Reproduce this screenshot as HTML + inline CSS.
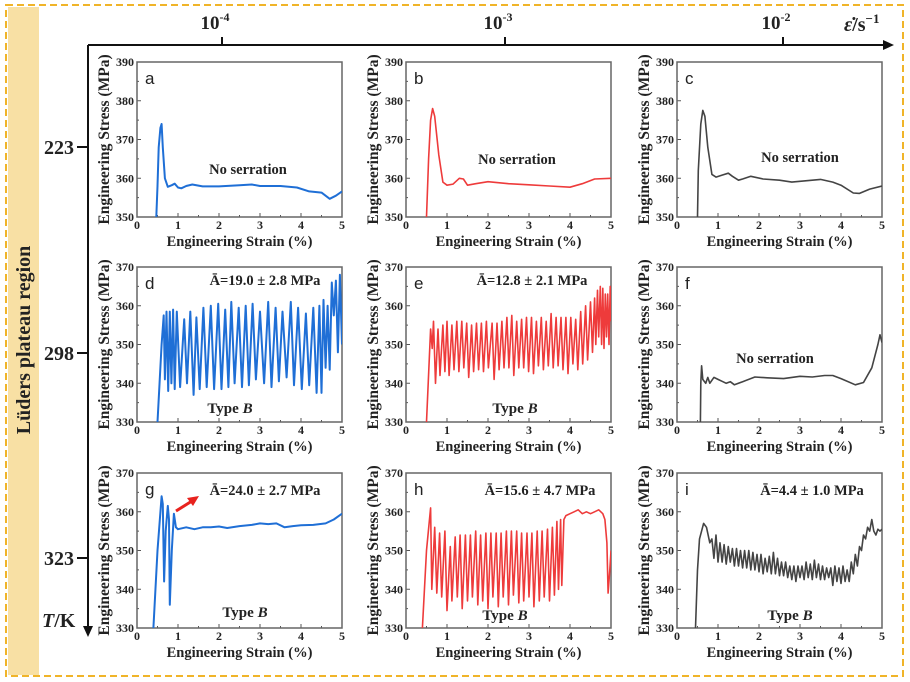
<!DOCTYPE html>
<html><head><meta charset="utf-8"><style>
html,body{margin:0;padding:0;background:#fff}
svg{display:block}
text{font-family:"Liberation Serif",serif;font-weight:bold;fill:#222}
</style></head><body>
<svg id="fig" width="910" height="682" viewBox="0 0 910 682">
<rect x="6" y="5" width="897" height="671" fill="none" stroke="#f0b429" stroke-width="2" stroke-dasharray="7,4"/>
<rect x="8" y="7" width="31" height="668" fill="#f8e0a4"/>
<text x="0" y="0" transform="translate(30,340) rotate(-90)" text-anchor="middle" font-size="20">Lüders plateau region</text>
<g id="frame"></g>
<g id="panels"></g>
</svg>
<script>
const rateLabels=["-4","-3","-2"];
const tempLabels=["223","298","323"];
const yTicks1=[350,360,370,380,390];
const yTicks2=[330,340,350,360,370];
const xTicks=[0,1,2,3,4,5];

const strainA=[0.47,0.5,0.53,0.57,0.6,0.63,0.68,0.75,0.85,0.92,1.0,1.08,1.2,1.35,1.6,2.0,2.5,2.8,3.0,3.5,3.9,4.2,4.5,4.7,4.85,5];
const stressA=[350,358,368,373,374,368,360,357.8,358.2,358.6,357.6,357.4,358,358.4,357.9,357.9,358.2,358.4,358,358,357.6,356.6,356.3,354.7,355.5,356.6];
const strainB=[0.5,0.55,0.6,0.65,0.7,0.8,0.9,1.0,1.15,1.3,1.4,1.5,1.7,2.0,2.5,3.0,3.5,4.0,4.3,4.6,5.0];
const stressB=[350,365,375,378,376,366,359,358.2,358.5,360,359.8,358.2,358.6,359.1,358.6,358.3,358,357.7,358.6,359.8,360];
const strainC=[0.5,0.52,0.58,0.63,0.68,0.75,0.85,0.95,1.1,1.25,1.35,1.5,1.6,1.8,2.1,2.5,2.8,3.2,3.5,3.8,4.0,4.3,4.45,4.7,5];
const stressC=[350,362,374,377.5,376,368,361,360.3,360.8,361.3,360.5,359.5,359.8,360.5,359.8,359.5,359,359.4,359.7,359,358.2,356.2,356.1,357.2,358];
const strainD=[0.5,0.6,0.65,0.68,0.72,0.76,0.8,0.84,0.88,0.92,0.97,1.05,1.15,1.22,1.3,1.38,1.45,1.53,1.62,1.7,1.8,1.88,1.98,2.06,2.15,2.23,2.3,2.38,2.48,2.56,2.65,2.73,2.82,2.9,3.0,3.1,3.2,3.28,3.38,3.46,3.55,3.65,3.75,3.83,3.93,4.02,4.12,4.2,4.3,4.38,4.45,4.5,4.55,4.6,4.65,4.7,4.75,4.8,4.85,4.9,4.95,5.0];
const stressD=[330,350,357.5,341,358.5,338,358.5,340,359,338.5,358.5,339,356.5,340,358.5,337,357,338.5,359.5,339,360,338.5,360.5,338.5,359,339,361,340,359.5,339,360,339.5,360.5,341,358.5,340,361,339,359.5,340.5,358.5,341.5,361,339.5,359.5,338.5,358,339.5,359.5,337.5,360,337.5,361.5,344,360,343.5,366,357.5,366.5,348,368,350];
const strainE=[0.5,0.6,0.64,0.67,0.72,0.78,0.83,0.9,0.95,1.0,1.05,1.12,1.17,1.24,1.29,1.36,1.41,1.48,1.53,1.6,1.65,1.72,1.77,1.84,1.89,1.96,2.01,2.1,2.15,2.22,2.27,2.34,2.39,2.46,2.51,2.58,2.63,2.7,2.75,2.82,2.87,2.94,2.99,3.06,3.11,3.18,3.23,3.3,3.35,3.42,3.47,3.54,3.59,3.66,3.71,3.78,3.83,3.9,3.95,4.02,4.07,4.14,4.19,4.26,4.31,4.38,4.43,4.5,4.55,4.6,4.63,4.67,4.7,4.74,4.77,4.8,4.83,4.86,4.89,4.92,4.95,4.98,5.0];
const stressE=[330,354,349,356,340,354,342,355,343,356,342,355,343.5,356,343,356,344,355.5,341.5,355,343,355.5,343.5,355.5,343,356,344,355.5,341,355.5,343.5,356,344,357,344,357.5,342,356,344,356.5,344,357,343,357,342.5,356,344.5,357,343.5,356,344.5,358,344,357,344.5,357,343.5,357,342.5,357,345,356.5,343.5,358.5,345,360,346,361,348,362,350,364,352,365,350,364.5,349,363,352,363,350,365,356];
const strainF=[0.57,0.58,0.6,0.63,0.7,0.75,0.8,0.9,1.0,1.1,1.2,1.3,1.4,1.6,1.9,2.2,2.6,3.0,3.3,3.6,3.8,4.0,4.35,4.55,4.75,4.9,4.95,5];
const stressF=[330,340,344.5,341,340,341.5,340,341.5,341,340.5,340,340.4,339.6,340.4,341.6,341.4,341.2,341.8,341.6,342,342,341.2,339.6,340.2,344,350,352.5,350.5];
const strainG=[0.4,0.5,0.6,0.63,0.66,0.7,0.75,0.78,0.8,0.85,0.9,0.95,1.0,1.2,1.4,1.6,1.8,2.0,2.2,2.5,2.8,3.0,3.2,3.4,3.6,3.8,4.0,4.3,4.6,4.8,5.0];
const stressG=[330,350,364,362,342,355,361.5,358,336,350,359.5,356,355.5,356,355.5,356,356,356.2,355.8,356.3,356.6,357,356.8,357,356,356.3,356.5,356.6,357,358,359.5];
const strainH=[0.4,0.5,0.6,0.63,0.7,0.75,0.82,0.87,0.95,1.0,1.08,1.12,1.2,1.25,1.32,1.37,1.45,1.5,1.57,1.62,1.7,1.75,1.82,1.87,1.95,2.0,2.07,2.12,2.2,2.25,2.32,2.37,2.45,2.5,2.57,2.62,2.7,2.75,2.82,2.87,2.95,3.0,3.07,3.12,3.2,3.25,3.32,3.37,3.45,3.5,3.57,3.62,3.68,3.72,3.77,3.8,3.85,3.9,4.0,4.1,4.2,4.3,4.4,4.5,4.6,4.7,4.8,4.85,4.9,4.93,4.97,5.0];
const stressH=[330,350,361,340,356,339,354.5,338,355,334.5,351,337,353.5,338,354,335,354,337,354,338,355,336,354,337,354.5,335,354.5,338,354.5,335.5,354.5,338,355,336,355,338.5,355,336.5,354.5,337,354.5,338,354.5,335.5,355,337,355,338,355.5,337,356,338.5,357.5,340,358,341,358,359,359.5,360,360.5,359.5,360,359.5,360,360.5,359.5,358,352,339,345,350];
const strainI=[0.45,0.5,0.55,0.65,0.72,0.8,0.85,0.9,0.95,1.0,1.05,1.1,1.15,1.2,1.25,1.3,1.35,1.4,1.45,1.5,1.55,1.6,1.65,1.7,1.75,1.8,1.85,1.9,1.95,2.0,2.05,2.1,2.15,2.2,2.25,2.3,2.35,2.4,2.45,2.5,2.55,2.6,2.65,2.7,2.75,2.8,2.85,2.9,2.95,3.0,3.05,3.1,3.15,3.2,3.25,3.3,3.35,3.4,3.45,3.5,3.55,3.6,3.65,3.7,3.75,3.8,3.85,3.9,3.95,4.0,4.05,4.1,4.15,4.2,4.25,4.3,4.35,4.4,4.45,4.5,4.55,4.6,4.65,4.7,4.75,4.8,4.85,4.9,4.95,5.0];
const stressI=[330,345,353,357,356,352,353,348,354,347,352,347,351.5,346.5,351,347,350.5,346,350.5,346,350,345.5,350,345.5,350,345,349.5,345,349,344.5,349,344,348,344.5,348.5,344,349.5,344,348,343.5,347,343.5,347,343,346,342.5,346,342,346,343,346,342.5,347,343,346.5,342.5,347.5,343,346.5,342.5,346,342.5,345.5,343,345.5,341,346,342,345.5,341.5,346,342,345,342,347,344,349,346,351,350,354,353,356,355,358,355,354,355.5,355,355.5];

const NS="http://www.w3.org/2000/svg";
function mk(tag,attrs,parent,txt){const e=document.createElementNS(NS,tag);for(const k in attrs)e.setAttribute(k,attrs[k]);if(txt!==undefined)e.textContent=txt;parent.appendChild(e);return e;}

const fr=document.getElementById('frame');
const fl=mk('path',{d:'M88,45 H886 M88,45 V628',stroke:'#111','stroke-width':2,fill:'none'},fr);


const ah1=mk('path',{d:'M894,45 L883,40 L883,50 Z',fill:'#111'},fr);


const ah2=mk('path',{d:'M88,637 L83,626 L93,626 Z',fill:'#111'},fr);


const rateX=[222,505,783];
rateLabels.forEach((l,i)=>{
  mk('line',{x1:rateX[i],x2:rateX[i],y1:45,y2:37,stroke:'#111','stroke-width':2},fr);
  const t=mk('text',{x:rateX[i]-7,y:29,'text-anchor':'middle','font-size':19},fr);
  
  
  mk('tspan',{},t,'10');
  mk('tspan',{dy:-8,'font-size':12},t,l);
});
const rt=mk('text',{x:844,y:31,'font-size':20},fr);


mk('tspan',{'font-style':'italic'},rt,'ε̇');
mk('tspan',{},rt,'/s');
mk('tspan',{dy:-8,'font-size':13},rt,'−1');
const tempY=[147,353,558];
tempLabels.forEach((l,i)=>{
  mk('line',{x1:77,x2:88,y1:tempY[i],y2:tempY[i],stroke:'#111','stroke-width':2},fr);
  const t=mk('text',{x:74,y:tempY[i]+7,'text-anchor':'end','font-size':20},fr,l);
  
  
});
const tk=mk('text',{x:42,y:627,'font-size':20},fr);


mk('tspan',{'font-style':'italic'},tk,'T');
mk('tspan',{},tk,'/K');

const cols=[137,406,677], rows=[62,267,473], PW=205, PH=155;
const panels=[
 {id:'a',c:0,r:0,xs:strainA,ys:stressA,col:'#1f6fd6',yt:yTicks1},
 {id:'b',c:1,r:0,xs:strainB,ys:stressB,col:'#ee3b3b',yt:yTicks1},
 {id:'c',c:2,r:0,xs:strainC,ys:stressC,col:'#444',yt:yTicks1},
 {id:'d',c:0,r:1,xs:strainD,ys:stressD,col:'#1f6fd6',yt:yTicks2},
 {id:'e',c:1,r:1,xs:strainE,ys:stressE,col:'#ee3b3b',yt:yTicks2},
 {id:'f',c:2,r:1,xs:strainF,ys:stressF,col:'#444',yt:yTicks2},
 {id:'g',c:0,r:2,xs:strainG,ys:stressG,col:'#1f6fd6',yt:yTicks2},
 {id:'h',c:1,r:2,xs:strainH,ys:stressH,col:'#ee3b3b',yt:yTicks2},
 {id:'i',c:2,r:2,xs:strainI,ys:stressI,col:'#444',yt:yTicks2}
];
const notes={a:[248,174,'No serration'],b:[517,164,'No serration'],c:[800,162,'No serration'],f:[775,363,'No serration'],
 d:[265,285,'Ā=19.0 ± 2.8 MPa'],e:[532,285,'Ā=12.8 ± 2.1 MPa'],g:[265,495,'Ā=24.0 ± 2.7 MPa'],h:[540,495,'Ā=15.6 ± 4.7 MPa'],i:[812,495,'Ā=4.4 ± 1.0 MPa']};
const types={d:[230,413],e:[515,413],g:[245,617],h:[505,620],i:[790,620]};
const pg=document.getElementById('panels');
panels.forEach(p=>{
  const L=cols[p.c],T=rows[p.r];
  const ymin=p.yt[0],ymax=p.yt[p.yt.length-1];
  const X=v=>L+v/5*PW, Y=v=>T+PH-(v-ymin)/(ymax-ymin)*PH;
  const g=mk('g',{},pg);
  
  
  const cp=mk('clipPath',{id:'cp'+p.id},g);
  mk('rect',{x:L,y:T,width:PW,height:PH},cp);
  xTicks.forEach(v=>{
    mk('line',{x1:X(v),x2:X(v),y1:T+PH,y2:T+PH-4,stroke:'#555'},g);
    if(v<5)mk('line',{x1:X(v+0.5),x2:X(v+0.5),y1:T+PH,y2:T+PH-2,stroke:'#555'},g);
    const t=mk('text',{x:X(v),y:T+PH+12,'text-anchor':'middle','font-size':12},g,v);
    
    
  });
  p.yt.forEach((v,i)=>{
    mk('line',{x1:L,x2:L+4,y1:Y(v),y2:Y(v),stroke:'#555'},g);
    if(i<p.yt.length-1)mk('line',{x1:L,x2:L+2,y1:Y(v+5),y2:Y(v+5),stroke:'#555'},g);
    const t=mk('text',{x:L-3,y:Y(v)+4,'text-anchor':'end','font-size':12},g,v);
    
    
  });
  const fr2=mk('rect',{x:L,y:T,width:PW,height:PH,fill:'none',stroke:'#666','stroke-width':1.5},g);
  
  
  const n=Math.min(p.xs.length,p.ys.length);
  let d='';
  for(let k=0;k<n;k++)d+=(k?'L':'M')+X(p.xs[k]).toFixed(1)+','+Y(p.ys[k]).toFixed(1);
  const ln=mk('path',{d:d,fill:'none',stroke:p.col,'stroke-width':p.c==0?2:1.6,'stroke-linejoin':'round','clip-path':'url(#cp'+p.id+')'},g);
  
  
  const lab=mk('text',{x:L+8,y:T+22,'font-size':17,style:'font-family:"Liberation Sans",sans-serif;font-weight:normal'},g,p.id);
  
  
  const xt=mk('text',{x:L+PW/2,y:T+PH+29,'text-anchor':'middle','font-size':14.5},g,'Engineering Strain (%)');
  
  
  const yt=mk('text',{x:0,y:0,transform:'translate('+(L-28)+','+(T+PH/2)+') rotate(-90)','text-anchor':'middle','font-size':15.5},g,'Engineering Stress (MPa)');
  
  
  if(notes[p.id]){const nt=notes[p.id];
    const t=mk('text',{x:nt[0],y:nt[1],'text-anchor':'middle','font-size':14.5},g,nt[2]);
    
    }
  if(types[p.id]){const tp=types[p.id];
    const t=mk('text',{x:tp[0],y:tp[1],'text-anchor':'middle','font-size':15},g);
    
    
    mk('tspan',{},t,'Type ');mk('tspan',{'font-style':'italic'},t,'B');}
});
const arr=mk('g',{},pg);


mk('line',{x1:176,y1:511,x2:192,y2:501,stroke:'#e8221e','stroke-width':3},arr);
mk('path',{d:'M199,496 L187,498 L193,506 Z',fill:'#e8221e'},arr);
</script>
</body></html>
